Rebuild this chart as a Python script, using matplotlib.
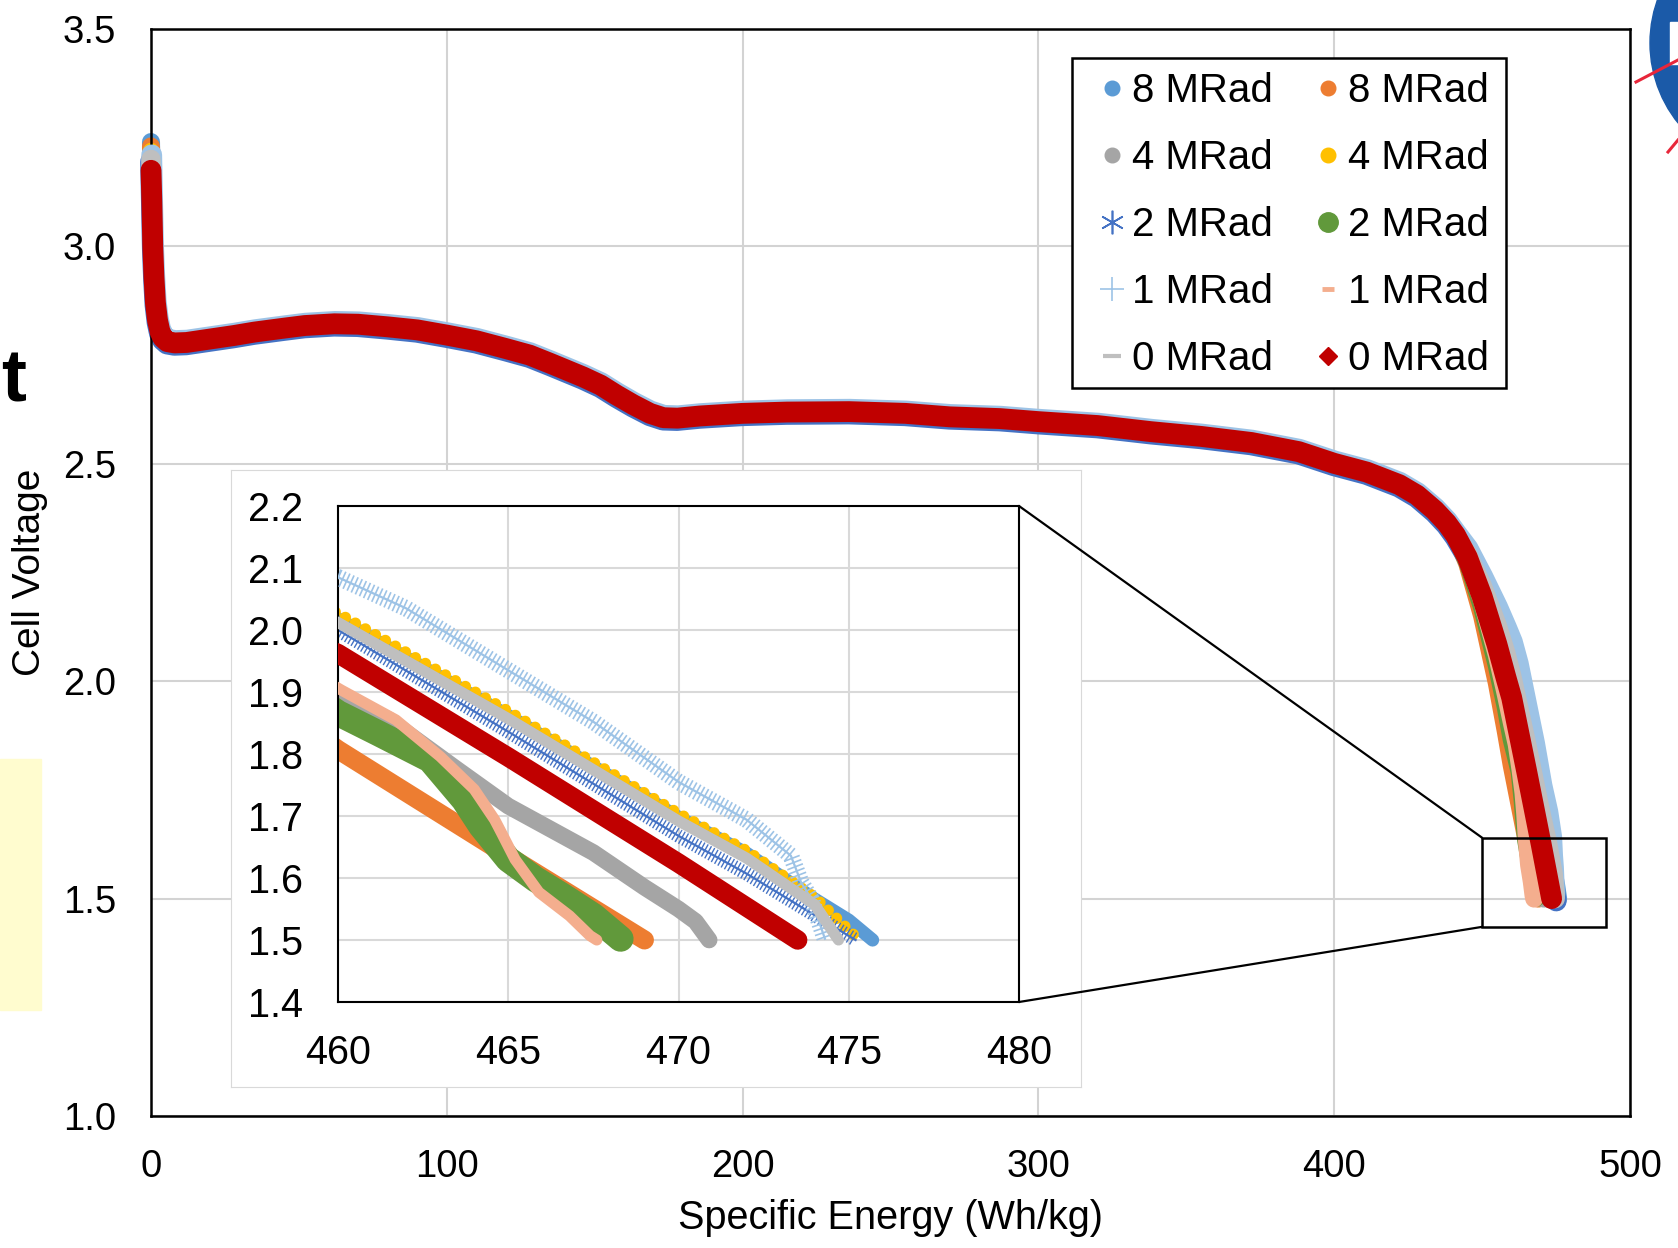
import matplotlib
matplotlib.use("Agg")
import matplotlib.pyplot as plt
from matplotlib.patches import Rectangle, Circle, ConnectionPatch
from matplotlib.lines import Line2D
import matplotlib.patheffects as pe

plt.rcParams['font.family'] = ['Liberation Sans', 'DejaVu Sans']

# ---------------- data ----------------
labels = ['8 MRad', '8 MRad', '4 MRad', '4 MRad', '2 MRad',
          '2 MRad', '1 MRad', '1 MRad', '0 MRad', '0 MRad']

# shared discharge body where all cells overlap
body_x = [0.3, 0.6, 1.0, 1.5, 2.2, 3.0, 4.0, 5.5, 8, 12, 20, 28, 35, 45, 52, 62, 70,
          80, 90, 100, 110, 120, 128, 135, 146, 152, 157.4, 163, 168.7, 173.2, 178,
          185.6, 200, 215, 236, 255, 270, 287, 300, 320, 338, 355, 372, 388, 400,
          411, 422, 428, 434, 438, 441]
body_v = [3.10, 3.00, 2.93, 2.87, 2.83, 2.805, 2.79, 2.781, 2.778, 2.779, 2.787,
          2.795, 2.803, 2.812, 2.818, 2.822, 2.821, 2.815, 2.808, 2.796, 2.783,
          2.765, 2.750, 2.731, 2.700, 2.681, 2.658, 2.636, 2.616, 2.606, 2.605,
          2.610, 2.616, 2.619, 2.620, 2.616, 2.608, 2.604, 2.597, 2.588, 2.574,
          2.563, 2.549, 2.528, 2.501, 2.481, 2.452, 2.428, 2.393, 2.364, 2.336]

start_v = [3.24, 3.23, 3.215, 3.22, 3.20, 3.20, 3.205, 3.195, 3.20, 3.175]

tail_x_8_blue = [445, 450, 455, 458, 460, 465, 470, 472, 474, 475, 475.7]
tail_v_8_blue = [2.295, 2.225, 2.135, 2.07, 2.018, 1.862, 1.698, 1.640, 1.566, 1.532, 1.50]
tail_x_8_orange = [445, 450, 455, 458, 460, 464.6, 469.0]
tail_v_8_orange = [2.27, 2.15, 1.995, 1.885, 1.807, 1.649, 1.50]
tail_x_4_gray = [445, 450, 455, 458, 460, 461.5, 463.5, 465, 467.5, 469, 470, 470.5, 470.9]
tail_v_4_gray = [2.28, 2.185, 2.055, 1.965, 1.895, 1.855, 1.775, 1.716, 1.641, 1.585, 1.55, 1.53, 1.50]
tail_x_4_yellow = [445, 450, 455, 458, 460, 465, 470, 472, 474, 475.3]
tail_v_4_yellow = [2.295, 2.225, 2.14, 2.075, 2.027, 1.869, 1.704, 1.644, 1.569, 1.50]
tail_x_2_star = [445, 450, 455, 458, 460, 465, 470, 472, 474, 475.2]
tail_v_2_star = [2.29, 2.212, 2.12, 2.055, 2.0, 1.836, 1.668, 1.607, 1.54, 1.50]
tail_x_2_green = [445, 450, 455, 458, 460, 461.2, 462.7, 463.7, 464.2, 465.0, 465.8,
                  466.6, 467.5, 468.3]
tail_v_2_green = [2.275, 2.17, 2.035, 1.94, 1.866, 1.833, 1.791, 1.726, 1.684, 1.630,
                  1.598, 1.571, 1.539, 1.502]
tail_x_1_plus = [445, 450, 455, 458, 460, 462, 465, 467.5, 470, 472.0, 473.3, 473.6,
                 473.9, 474.3]
tail_v_1_plus = [2.30, 2.235, 2.165, 2.118, 2.085, 2.035, 1.935, 1.852, 1.755, 1.694,
                 1.636, 1.593, 1.566, 1.502]
tail_x_1_salmon = [445, 450, 455, 458, 460.1, 461.7, 463.0, 464.0, 464.6, 464.8, 465.2,
                   465.9, 466.8, 467.4, 467.6]
tail_v_1_salmon = [2.28, 2.185, 2.06, 1.97, 1.903, 1.855, 1.796, 1.743, 1.694, 1.673,
                   1.63, 1.577, 1.539, 1.507, 1.50]
tail_x_0_gray = [445, 450, 455, 458, 460, 465, 470, 472, 474, 474.7]
tail_v_0_gray = [2.293, 2.22, 2.13, 2.065, 2.012, 1.857, 1.692, 1.632, 1.557, 1.50]
tail_x_0_red = [445, 450, 455, 458, 460, 465, 470, 473.5]
tail_v_0_red = [2.285, 2.195, 2.085, 2.01, 1.962, 1.795, 1.624, 1.50]

tails_x = [tail_x_8_blue, tail_x_8_orange, tail_x_4_gray, tail_x_4_yellow, tail_x_2_star,
           tail_x_2_green, tail_x_1_plus, tail_x_1_salmon, tail_x_0_gray, tail_x_0_red]
tails_v = [tail_v_8_blue, tail_v_8_orange, tail_v_4_gray, tail_v_4_yellow, tail_v_2_star,
           tail_v_2_green, tail_v_1_plus, tail_v_1_salmon, tail_v_0_gray, tail_v_0_red]

x_ticks = [0, 100, 200, 300, 400, 500]
y_ticks = [1.0, 1.5, 2.0, 2.5, 3.0, 3.5]
inset_x_ticks = [460, 465, 470, 475, 480]
inset_y_ticks = [1.4, 1.5, 1.6, 1.7, 1.8, 1.9, 2.0, 2.1, 2.2]
zoom_box = (450, 1.435, 492, 1.640)   # region shown in the inset

# ---------------- styles ----------------
colors = ['#5B9BD5', '#ED7D31', '#A5A5A5', '#FFC000', '#4472C4',
          '#61993B', '#9DC3E6', '#F4AE8E', '#BFBFBF', '#C00000']
main_lw = [13, 13, 13, 11.5, 15, 13, 15, 13, 14, 15]
inset_lw = [9.5, 13.7, 12, 8.3, 10, 18.7, 12, 8, 8, 14]
inset_kind = ['solid', 'solid', 'solid', 'dots', 'ladder', 'solid', 'ladder',
              'solid', 'solid', 'solid']
main_offset = {4: (-0.3, -1.7), 6: (0.5, 1.7)}

W, H = 1678, 1248
fig = plt.figure(figsize=(W / 100, H / 100), dpi=100)

def fx(px):
    return px / W

def fy(py):
    return 1 - py / H

# slide decorations
fig.patches.append(Rectangle((0, fy(1010)), fx(41), fy(759) - fy(1010),
                             transform=fig.transFigure, color='#FFFCCF', zorder=0))
fig.text(fx(1), fy(401), 't', fontsize=54, fontweight='bold', ha='left',
         va='baseline', color='black')
fig.patches.append(Circle((17.78, (H - 43) / 100), 1.28, transform=fig.dpi_scale_trans,
                          color='#1B5AA8', zorder=0))
fig.patches.append(Rectangle((16.70, (H - 64) / 100), 0.08, 0.42,
                             transform=fig.dpi_scale_trans, color='white', zorder=1))
fig.lines.append(Line2D([16.36, 16.78], [(H - 82) / 100, (H - 60) / 100],
                        transform=fig.dpi_scale_trans, color='#E8263A', lw=2.2))
fig.lines.append(Line2D([16.68, 16.78], [(H - 152) / 100, (H - 140) / 100],
                        transform=fig.dpi_scale_trans, color='#E8263A', lw=2.2))

# ---------------- main axes ----------------
ax = fig.add_axes([fx(151), fy(1116), fx(1630) - fx(151), fy(29) - fy(1116)])
ax.set_xlim(0, 500)
ax.set_ylim(1.0, 3.5)
ax.set_xticks(x_ticks)
ax.set_yticks(y_ticks)
ax.set_yticklabels([f'{v:.1f}' for v in y_ticks])
ax.tick_params(length=0, labelsize=27.5, pad=24)
ax.tick_params(axis='y', pad=25)
ax.grid(True, color='#D3D3D3', lw=1.5)
ax.set_axisbelow(True)
for s in ax.spines.values():
    s.set_color('black')
    s.set_linewidth(1.8)
ax.set_xlabel('Specific Energy (Wh/kg)', fontsize=28.5)
ax.xaxis.set_label_coords(0.5, (1116 - 1218) / 1087)
ax.xaxis.label.set_va('center')
ax.set_ylabel('Cell Voltage', fontsize=28)
ax.yaxis.set_label_coords((30.5 - 151) / 1479, (1116 - 572) / 1087)
ax.yaxis.label.set_va('center')

series_x = []
series_v = []
for i in range(10):
    xs = [0.0] + body_x + tails_x[i]
    vs = [start_v[i]] + body_v + tails_v[i]
    series_x.append(xs)
    series_v.append(vs)
    ln, = ax.plot(xs, vs, color=colors[i], lw=main_lw[i], clip_on=False,
                  solid_capstyle='round', solid_joinstyle='round', zorder=2 + i * 0.1)
    if i in main_offset:
        ln.set_path_effects([pe.Stroke(offset=main_offset[i])])

ax.add_patch(Rectangle((zoom_box[0], zoom_box[1]), zoom_box[2] - zoom_box[0],
                       zoom_box[3] - zoom_box[1], fill=False, ec='black', lw=1.8,
                       zorder=6, clip_on=False))

# legend frame + legend
ax.add_patch(Rectangle(((1072 - 151) / 1479, (1116 - 388) / 1087), 434 / 1479, 330 / 1087,
                       transform=ax.transAxes, facecolor='white', edgecolor='black',
                       lw=1.8, zorder=7))
handles = {
    0: Line2D([], [], ls='none', marker='o', ms=10.5, color=colors[0]),
    1: Line2D([], [], ls='none', marker='o', ms=10.5, color=colors[1]),
    2: Line2D([], [], ls='none', marker='o', ms=10.5, color=colors[2]),
    3: Line2D([], [], ls='none', marker='o', ms=10.5, color=colors[3]),
    4: Line2D([], [], ls='none', marker=(6, 2, 0), ms=17, mew=1.2, color=colors[4]),
    5: Line2D([], [], ls='none', marker='o', ms=14, color=colors[5]),
    6: Line2D([], [], ls='none', marker='+', ms=17, mew=1.2, color=colors[6]),
    7: Line2D([], [], ls='none', marker='_', ms=8, mew=3.5, color=colors[7]),
    8: Line2D([], [], ls='none', marker='_', ms=13, mew=3, color=colors[8]),
    9: Line2D([], [], ls='none', marker='D', ms=9, color=colors[9]),
}
order = [0, 2, 4, 6, 8, 1, 3, 5, 7, 9]
leg = ax.legend([handles[k] for k in order], [labels[k] for k in order], ncol=2,
                frameon=False, fontsize=29, loc='upper left',
                bbox_to_anchor=(fx(1095.6), fy(71.6)), bbox_transform=fig.transFigure,
                borderpad=0, borderaxespad=0, handlelength=0.8, handletextpad=0.1,
                columnspacing=0.975, labelspacing=0.72)
leg.set_zorder(8)

# ---------------- inset ----------------
panel = fig.add_axes([fx(231), fy(1087), fx(1081) - fx(231), fy(470) - fy(1087)])
panel.set_xticks([])
panel.set_yticks([])
for s in panel.spines.values():
    s.set_color('#D9D9D9')
    s.set_linewidth(0.8)
panel.set_zorder(3)

axi = fig.add_axes([fx(338), fy(1002), fx(1019) - fx(338), fy(506) - fy(1002)])
axi.set_zorder(4)
axi.set_xlim(460, 480)
axi.set_ylim(1.4, 2.2)
axi.set_xticks(inset_x_ticks)
axi.set_yticks(inset_y_ticks)
axi.set_yticklabels([f'{v:.1f}' for v in inset_y_ticks])
axi.tick_params(length=0, labelsize=28.5)
axi.tick_params(axis='x', pad=23)
axi.tick_params(axis='y', pad=25)
axi.grid(True, color='#D9D9D9', lw=1.5)
axi.set_axisbelow(True)
for s in axi.spines.values():
    s.set_color('black')
    s.set_linewidth(1.5)

for i in range(10):
    z = 2 + i * 0.1
    if inset_kind[i] == 'ladder':
        axi.plot(series_x[i], series_v[i], color=colors[i], lw=inset_lw[i],
                 ls=(0, (0.1, 0.17)), dash_capstyle='butt', zorder=z)
        axi.plot(series_x[i], series_v[i], color=colors[i], lw=1.6, zorder=z)
    elif inset_kind[i] == 'dots':
        axi.plot(series_x[i], series_v[i], color=colors[i], lw=inset_lw[i],
                 ls=(0, (0.001, 1.0)), dash_capstyle='round', zorder=z)
    else:
        axi.plot(series_x[i], series_v[i], color=colors[i], lw=inset_lw[i],
                 solid_capstyle='round', solid_joinstyle='round', zorder=z)

for xyA, xyB in [((zoom_box[0], zoom_box[3]), (1, 1)), ((zoom_box[0], zoom_box[1]), (1, 0))]:
    con = ConnectionPatch(xyA=xyA, coordsA=ax.transData, xyB=xyB, coordsB=axi.transAxes,
                          color='black', lw=1.6)
    con.set_zorder(9)
    fig.add_artist(con)

fig.savefig('out.png', dpi=100)
